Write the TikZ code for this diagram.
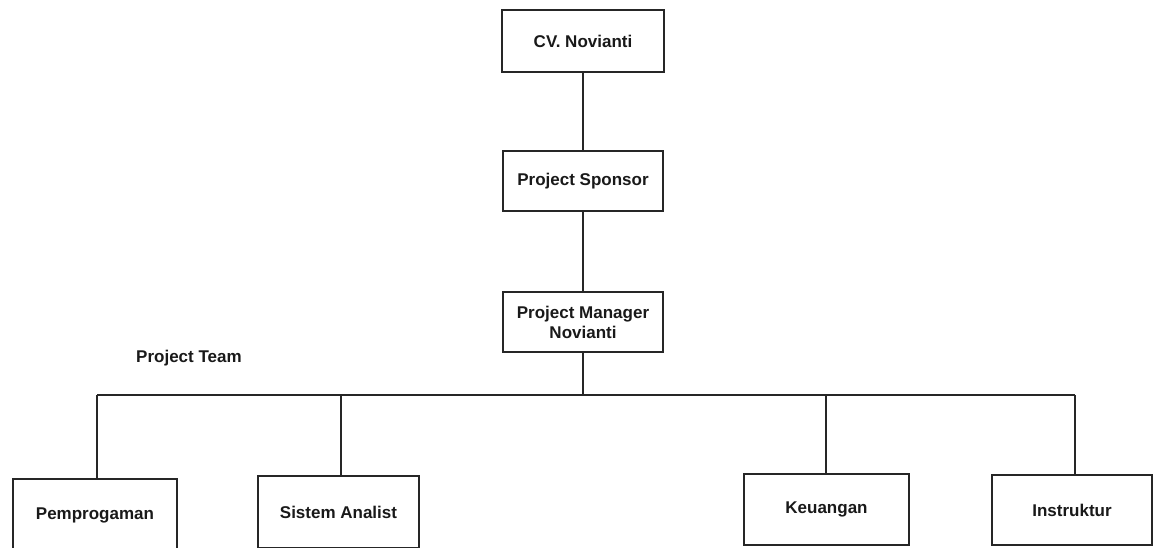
\documentclass[tikz,border=0pt]{standalone}
\usepackage{fontspec}
\setmainfont{Liberation Sans}
\begin{document}
\begin{tikzpicture}[x=1pt,y=-1pt,
  box/.style={draw=black!85,line width=1.3pt,inner sep=0pt,align=center,
    font=\fontsize{17}{20}\selectfont\bfseries,text=black!90},
  link/.style={draw=black!85,line width=1.3pt},
  lbl/.style={font=\fontsize{17}{20}\selectfont\bfseries,text=black!90,inner sep=0pt}]
\useasboundingbox (0,0) rectangle (1155,547);
\clip (0,0) rectangle (1155,547);
\node[box,minimum width=162pt,minimum height=62pt] (cv) at (583,41) {CV. Novianti};
\node[box,minimum width=160pt,minimum height=60pt] (sp) at (583,181) {Project Sponsor};
\node[box,minimum width=160pt,minimum height=60pt] (pm) at (583,322) {Project Manager\\Novianti};
\node[lbl,anchor=west] (team) at (136,358) {Project Team};
\node[box,minimum width=164pt,minimum height=73pt] (pe) at (95,515.5) {Pemprogaman};
\node[box,minimum width=161pt,minimum height=72pt] (sa) at (338.5,512) {Sistem Analist};
\node[box,minimum width=165pt,minimum height=71pt] (ke) at (826.5,509.5) {Keuangan};
\node[box,minimum width=160pt,minimum height=70pt] (in) at (1072,510) {Instruktur};
\coordinate (busL) at (97,395);
\coordinate (busR) at (1075,395);
\draw[link] (cv) -- (sp);
\draw[link] (sp) -- (pm);
\draw[link] (pm.south) -- (pm.south |- busL);
\draw[link] (busL) -- (busR);
\draw[link] (busL) -- (busL |- pe.north);
\draw[link] (sa.north -| 341,0) -- (341,395);
\draw[link] (ke.north -| 826,0) -- (826,395);
\draw[link] (busR) -- (busR |- in.north);
\end{tikzpicture}
\end{document}
